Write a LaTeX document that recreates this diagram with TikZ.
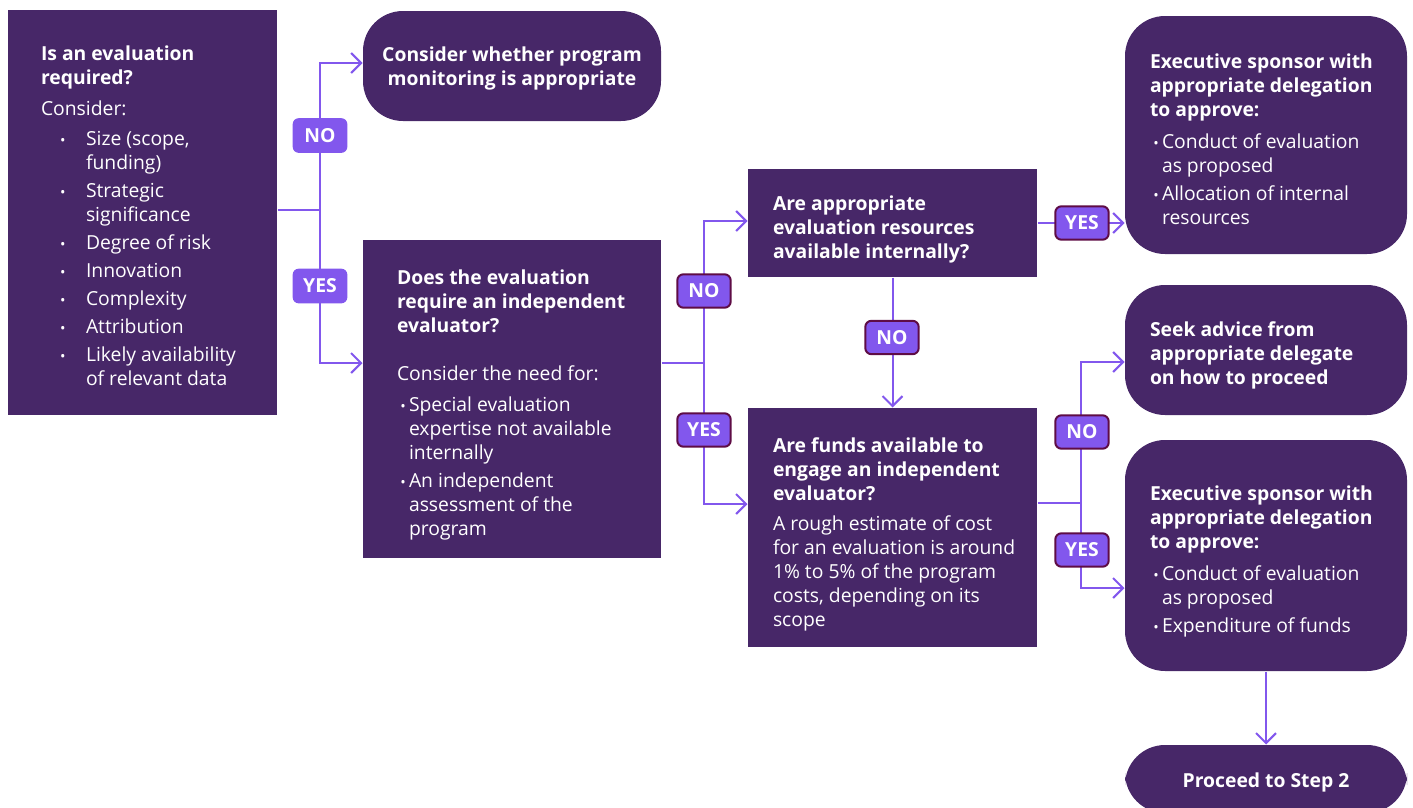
\documentclass[tikz,border=0pt]{standalone}
\usepackage{fontspec}
\setmainfont{Open Sans}
\usetikzlibrary{arrows.meta}

\definecolor{evDark}{HTML}{472768}
\definecolor{evLight}{HTML}{8257ED}
\definecolor{evEdge}{HTML}{5E0C45}

\tikzset{every picture/.style={line width=0.75pt}}
\tikzset{
  sqbox/.style={fill=evDark, inner sep=0pt},
  rdbox/.style={sqbox, rounded corners=30pt},
  boxtext/.style={text=white, align=left, inner sep=0pt, anchor=west, font=\fontsize{14.5}{18}\selectfont},
  tag/.style={fill=evLight, text=white, rounded corners=4.5pt, minimum width=41pt, minimum height=26pt, inner sep=0pt, font=\fontsize{14.5}{16}\selectfont\bfseries},
  tagb/.style={tag, draw=evEdge, line width=1.5pt, minimum width=40pt, minimum height=25pt},
  link/.style={draw=evLight, line width=1.5pt},
  arr/.style={link, -{Straight Barb[length=7.5pt,width=15pt]}},
}

\newcommand{\bul}{\scalebox{0.75}{•}}
\newcommand{\itA}[1]{\makebox[33.75pt][l]{\hspace*{14.25pt}\bul}#1}
\newcommand{\coA}[1]{\hspace*{33.75pt}#1}
\newcommand{\itB}[1]{\makebox[9pt][l]{\hspace*{2.5pt}\bul}#1}
\newcommand{\coB}[1]{\hspace*{9pt}#1}

\begin{document}
\begin{tikzpicture}[x=0.75pt,y=0.75pt,yscale=-1,xscale=1]
\useasboundingbox (0,0) rectangle (1413,807);

% boxes
\node[sqbox, minimum width=201.75pt, minimum height=303.75pt] (req) at (142.5,212.5) {};
\node[rdbox, minimum width=223.5pt, minimum height=82.5pt] (mon) at (512,66) {};
\node[sqbox, minimum width=223.5pt, minimum height=238.5pt] (ind) at (512,399) {};
\node[sqbox, minimum width=216.75pt, minimum height=81pt] (res) at (892.5,223) {};
\node[sqbox, minimum width=216.75pt, minimum height=179.25pt] (fund) at (892.5,527.5) {};
\node[rdbox, minimum width=211.5pt, minimum height=178.5pt] (ex1) at (1266,135) {};
\node[rdbox, minimum width=211.5pt, minimum height=97.5pt] (seek) at (1266,350) {};
\node[rdbox, minimum width=211.5pt, minimum height=173.25pt] (ex2) at (1266,555.5) {};
\node[rdbox, minimum width=211.5pt, minimum height=51pt] (go) at (1266,779) {};

% box texts
\node[boxtext, anchor=center, align=center, font=\fontsize{14.5}{18}\selectfont\bfseries] (montxt) at ([yshift=1.5pt]mon.center) {Consider whether program\\monitoring is appropriate};
\node[boxtext, anchor=center, font=\fontsize{14.5}{18}\selectfont\bfseries] (gotxt) at ([yshift=2.25pt]go.center) {Proceed to Step 2};
\node[boxtext] (reqtxt) at ([xshift=24.75pt,yshift=2.5pt]req.west) {\textbf{Is an evaluation}\\\textbf{required?}\\[5pt]
Consider:\\[5pt]
\itA{Size (scope,}\\\coA{funding)}\\[3pt]
\itA{Strategic}\\\coA{significance}\\[3pt]
\itA{Degree of risk}\\[3pt]
\itA{Innovation}\\[3pt]
\itA{Complexity}\\[3pt]
\itA{Attribution}\\[3pt]
\itA{Likely availability}\\\coA{of relevant data}};
\node[boxtext] (indtxt) at ([xshift=25.5pt,yshift=4.5pt]ind.west) {\textbf{Does the evaluation}\\\textbf{require an independent}\\\textbf{evaluator?}\\[18pt]
Consider the need for:\\[5pt]
\itB{Special evaluation}\\\coB{expertise not available}\\\coB{internally}\\[3pt]
\itB{An independent}\\\coB{assessment of the}\\\coB{program}};
\node[boxtext, font=\fontsize{14.5}{18}\selectfont\bfseries] (restxt) at ([xshift=18.75pt,yshift=4.5pt]res.west) {Are appropriate\\evaluation resources\\available internally?};
\node[boxtext] (fundtxt) at ([xshift=18.75pt,yshift=5.25pt]fund.west) {\textbf{Are funds available to}\\\textbf{engage an independent}\\\textbf{evaluator?}\\[5pt]
A rough estimate of cost\\for an evaluation is around\\1\% to 5\% of the program\\costs, depending on its\\scope};
\node[boxtext] (ex1txt) at ([xshift=18.75pt,yshift=3pt]ex1.west) {\textbf{Executive sponsor with}\\\textbf{appropriate delegation}\\\textbf{to approve:}\\[6pt]
\itB{Conduct of evaluation}\\\coB{as proposed}\\[3pt]
\itB{Allocation of internal}\\\coB{resources}};
\node[boxtext, font=\fontsize{14.5}{18}\selectfont\bfseries] (seektxt) at ([xshift=18.75pt,yshift=3.75pt]seek.west) {Seek advice from\\appropriate delegate\\on how to proceed};
\node[boxtext] (ex2txt) at ([xshift=18.75pt,yshift=4.5pt]ex2.west) {\textbf{Executive sponsor with}\\\textbf{appropriate delegation}\\\textbf{to approve:}\\[6pt]
\itB{Conduct of evaluation}\\\coB{as proposed}\\[3pt]
\itB{Expenditure of funds}};

% connectors
\coordinate (j1) at (320,210);
\coordinate (j2) at (704,363);
\coordinate (j3) at (1081,503);
\draw[link] (req.east |- j1) -- (j1);
\draw[arr] (j1) |- ([yshift=-2.25pt]mon.west);
\draw[arr] (j1) |- ([yshift=-27pt]ind.west);
\draw[link] (ind.east |- j2) -- (j2);
\draw[arr] (j2) |- ([yshift=-1.5pt]res.west);
\draw[arr] (j2) |- ([yshift=-17.6pt]fund.west);
\draw[arr] (res.south) -- (fund.north);
\draw[arr] (res.east) -- (res.east -| ex1.west);
\draw[link] (fund.east |- j3) -- (j3);
\draw[arr] (j3) |- ([yshift=9pt]seek.west);
\draw[arr] (j3) |- ([yshift=24.4pt]ex2.west);
\draw[arr] (ex2.south) -- (go.north);

% yes / no tags
\node[tag] (no1) at (320,135.5) {NO};
\node[tag] (yes1) at (320,286) {YES};
\node[tagb] (no2) at (704,291) {NO};
\node[tagb] (yes2) at (704,430) {YES};
\node[tagb] (no3) at (892,337.5) {NO};
\node[tagb] (yes3) at (1082,223) {YES};
\node[tagb] (no4) at (1082,432) {NO};
\node[tagb] (yes4) at (1082,550) {YES};

\end{tikzpicture}
\end{document}
